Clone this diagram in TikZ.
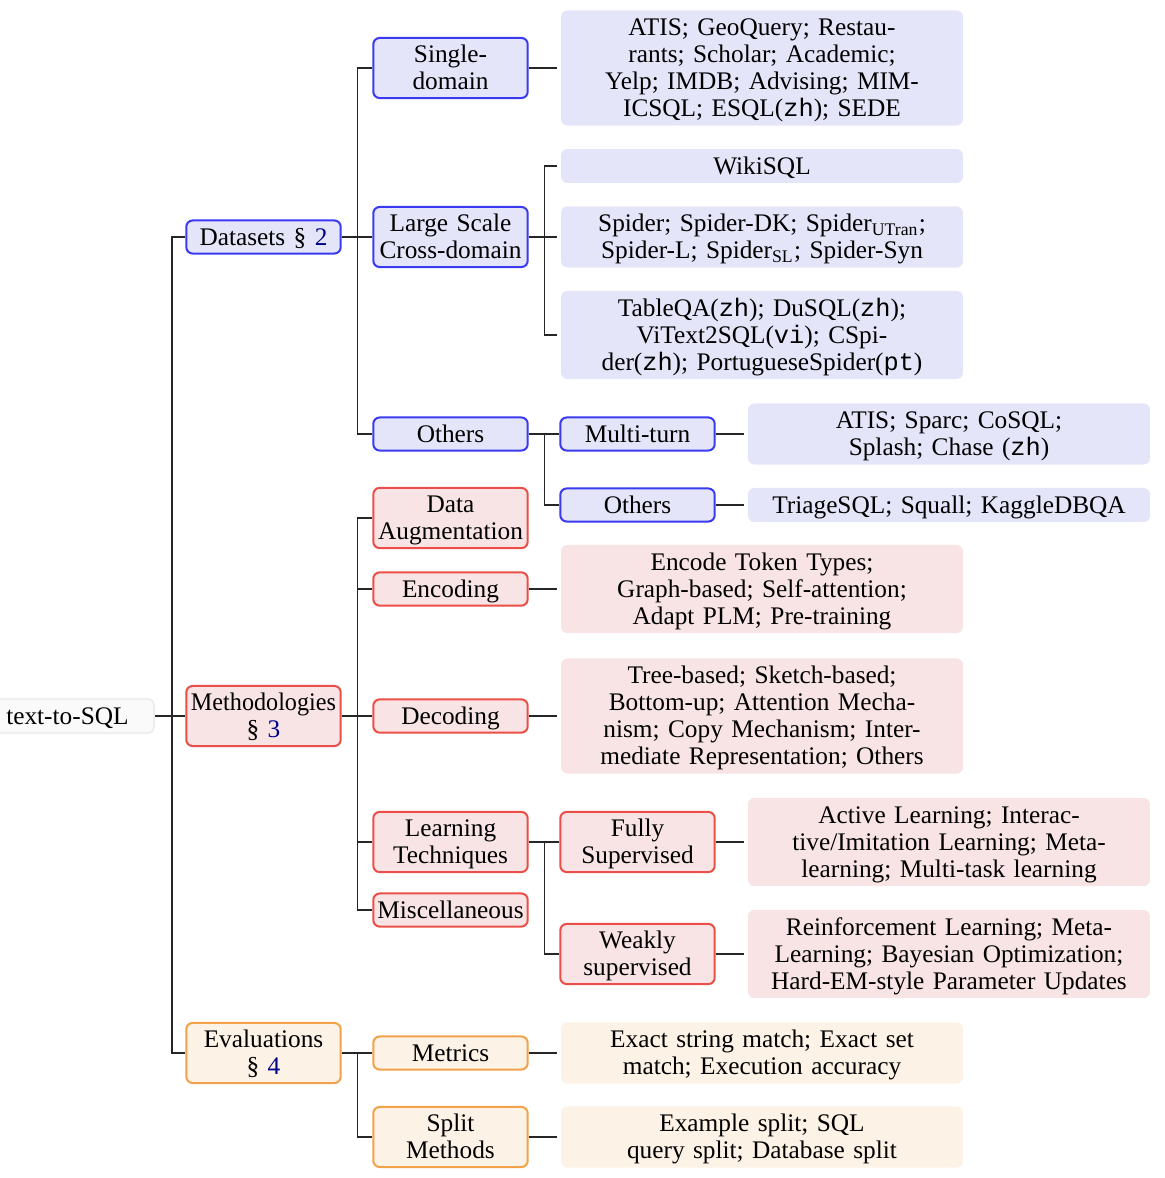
\documentclass[tikz,border=0pt]{standalone}
\usepackage{fontspec}
\usepackage{graphicx}
\setmainfont{Liberation Serif}
\setmonofont{Liberation Mono}
\definecolor{bBord}{RGB}{58,58,240}
\definecolor{bFill}{RGB}{229,229,250}
\definecolor{rBord}{RGB}{235,78,70}
\definecolor{rFill}{RGB}{248,228,228}
\definecolor{oBord}{RGB}{242,162,72}
\definecolor{oFill}{RGB}{252,242,230}
\definecolor{gBord}{RGB}{238,238,238}
\definecolor{gFill}{RGB}{250,250,250}
\definecolor{lnk}{RGB}{0,0,140}
\newcommand{\topstrut}{\rule{0pt}{8.57pt}}
\newcommand{\botstrut}{\rule[-2.1pt]{0pt}{2.1pt}}
\tikzset{
  basetext/.style={font=\fontsize{10}{10.67}\selectfont, align=center,
    execute at begin node=\topstrut, execute at end node=\botstrut},
  lvbox/.style={basetext, draw, line width=0.8pt, rounded corners=2.5pt,
    text width=60pt, inner xsep=0.5pt, inner ysep=1.2pt},
  leafbox/.style={basetext, rounded corners=2.5pt, text width=155pt,
    inner xsep=1.9pt, inner ysep=1.37pt, outer sep=1.6pt},
  bbox/.style={lvbox, draw=bBord, fill=bFill},
  rbox/.style={lvbox, draw=rBord, fill=rFill},
  obox/.style={lvbox, draw=oBord, fill=oFill},
  bleaf/.style={leafbox, fill=bFill},
  rleaf/.style={leafbox, fill=rFill},
  oleaf/.style={leafbox, fill=oFill},
  rootbox/.style={basetext, draw=gBord, fill=gFill, line width=0.8pt,
    rounded corners=2.5pt, minimum width=68.4pt, inner ysep=1.4pt},
  conn/.style={draw=black!85, line width=0.5pt}
}
\begin{document}
\begin{tikzpicture}[x=0.3951pt, y=-0.3951pt]
\useasboundingbox (0,0) rectangle (1164,1178);
\clip (0,0) rectangle (1164,1178);
% root
\node[rootbox, anchor=east] (root) at (155,716) {text-to-SQL};
% level 1
\node[bbox] (ds) at (263.5,237) {Datasets \S\ \textcolor{lnk}{2}};
\node[rbox] (me) at (263.5,716) {\scalebox{0.955}[1]{Methodologies}\\\S\ \textcolor{lnk}{3}};
\node[obox] (ev) at (263.5,1053) {Evaluations\\\S\ \textcolor{lnk}{4}};
% level 2
\node[bbox] (sd) at (450.5,68) {Single-\\domain};
\node[bbox] (ls) at (450.5,237) {Large Scale\\Cross-domain};
\node[bbox] (oth) at (450.5,434) {Others};
\node[rbox] (da) at (450.5,518) {Data\\Augmentation};
\node[rbox] (enc) at (450.5,589) {Encoding};
\node[rbox] (dec) at (450.5,716) {Decoding};
\node[rbox] (lt) at (450.5,842) {Learning\\Techniques};
\node[rbox] (misc) at (450.5,910) {Miscellaneous};
\node[obox] (met) at (450.5,1053) {Metrics};
\node[obox] (spl) at (450.5,1137) {Split\\Methods};
% level 3 leaves
\node[bleaf] (sdL) at (762,68) {ATIS; GeoQuery; Restau-\\rants; Scholar; Academic;\\Yelp; IMDB; Advising; MIM-\\ICSQL; ESQL(\texttt{zh}); SEDE};
\node[bleaf] (wiki) at (762,166) {WikiSQL};
\node[bleaf] (spi) at (762,237) {Spider; Spider-DK; Spider\textsubscript{UTran};\\Spider-L; Spider\textsubscript{SL}; Spider-Syn};
\node[bleaf] (tqa) at (762,335) {TableQA(\texttt{zh}); DuSQL(\texttt{zh});\\ViText2SQL(\texttt{vi}); CSpi-\\der(\texttt{zh}); PortugueseSpider(\texttt{pt})};
\node[rleaf] (encL) at (762,589) {Encode Token Types;\\Graph-based; Self-attention;\\Adapt PLM; Pre-training};
\node[rleaf] (decL) at (762,716) {Tree-based; Sketch-based;\\Bottom-up; Attention Mecha-\\nism; Copy Mechanism; Inter-\\mediate Representation; Others};
\node[oleaf] (metL) at (762,1053) {Exact string match; Exact set\\match; Execution accuracy};
\node[oleaf] (splL) at (762,1137) {Example split; SQL\\query split; Database split};
% level 3 inner
\node[bbox] (mt) at (637.5,434) {Multi-turn};
\node[bbox] (oth2) at (637.5,505) {Others};
\node[rbox] (fs) at (637.5,842) {Fully\\Supervised};
\node[rbox] (ws) at (637.5,954) {Weakly\\supervised};
% level 4 leaves
\node[bleaf] (mtL) at (949,434) {ATIS; Sparc; CoSQL;\\Splash; Chase (\texttt{zh})};
\node[bleaf] (oth2L) at (949,505) {TriageSQL; Squall; KaggleDBQA};
\node[rleaf] (fsL) at (949,842) {Active Learning; Interac-\\tive/Imitation Learning; Meta-\\learning; Multi-task learning};
\node[rleaf] (wsL) at (949,954) {Reinforcement Learning; Meta-\\Learning; Bayesian Optimization;\\Hard-EM-style Parameter Updates};
% connectors
\foreach \c in {ds,me,ev} \draw[conn] (root.east) -- ++(17,0) |- (\c.west);
\foreach \c in {sd,ls,oth} \draw[conn] (ds.east) -- ++(16,0) |- (\c.west);
\foreach \c in {da,enc,dec,lt,misc} \draw[conn] (me.east) -- ++(16,0) |- (\c.west);
\foreach \c in {met,spl} \draw[conn] (ev.east) -- ++(16,0) |- (\c.west);
\foreach \c in {wiki,spi,tqa} \draw[conn] (ls.east) -- ++(16,0) |- (\c.west);
\foreach \c in {mt,oth2} \draw[conn] (oth.east) -- ++(16,0) |- (\c.west);
\foreach \c in {fs,ws} \draw[conn] (lt.east) -- ++(16,0) |- (\c.west);
\draw[conn] (sd.east) -- (sdL.west);
\draw[conn] (enc.east) -- (encL.west);
\draw[conn] (dec.east) -- (decL.west);
\draw[conn] (met.east) -- (metL.west);
\draw[conn] (spl.east) -- (splL.west);
\draw[conn] (mt.east) -- (mtL.west);
\draw[conn] (oth2.east) -- (oth2L.west);
\draw[conn] (fs.east) -- (fsL.west);
\draw[conn] (ws.east) -- (wsL.west);
\end{tikzpicture}
\end{document}
